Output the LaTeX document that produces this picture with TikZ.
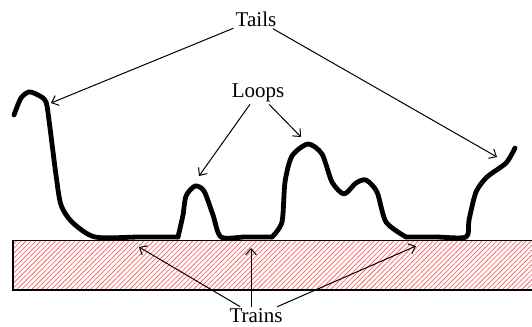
\documentclass[tikz,border=0pt]{standalone}
\usepackage{fontspec}
\setmainfont{Liberation Serif}
\usetikzlibrary{patterns.meta,arrows.meta}

\begin{document}
\begin{tikzpicture}[
    x=0.75pt, y=-0.75pt,
    every node/.style={font=\fontsize{15.75}{18}\selectfont},
    lbl/.style={inner sep=1.5pt},
    arr/.style={-{Straight Barb[length=4.5pt, width=8pt]}, line width=0.75pt},
    chain/.style={line width=3.6pt, line join=round, line cap=round},
    surface/.style={pattern={Lines[angle=45, distance=2.6pt, line width=0.45pt]}, pattern color=red!70}
  ]
    \clip (0,0) rectangle (532,326);

    % substrate
    \fill[surface] (13,240.5) rectangle (540,290);
    \draw[line width=1pt] (540,240.5) -- (13,240.5) -- (13,290) -- (540,290);

    % adsorbed chain
    \draw[chain] plot[smooth, tension=0.45] coordinates {
      (14,115) (21,98) (29,92) (38,95) (46,102) (50,128) (56,175) (61,205)
      (72,222) (95,237) (140,237) (178,237)};
    \draw[chain] plot[smooth, tension=0.45] coordinates {
      (178,237) (183,215) (186,196) (195,186) (204,191) (213,215) (221,237)
      (245,237) (272,237)};
    \draw[chain] plot[smooth, tension=0.45] coordinates {
      (272,237) (282,222) (285,182) (292,156) (308,144) (322,154) (332,182)
      (344,194) (356,183) (366,180) (377,192) (386,222) (406,237)};
    \draw[chain] plot[smooth, tension=0.45] coordinates {
      (406,237) (436,237) (466,237) (469,220) (476,192) (487,177) (506,163)
      (515,148)};

    % labels
    \node[lbl] (tails) at (256,19) {Tails};
    \node[lbl] (loops) at (258,93) {Loops};
    \node[lbl] (trains) at (256,316) {Trains};

    \coordinate (tailL) at (51,103);
    \coordinate (tailR) at (497,157);
    \coordinate (loopA) at (199,176);
    \coordinate (loopB) at (301,137);
    \coordinate (trainA) at (139,247);
    \coordinate (trainB) at (251,248);
    \coordinate (trainC) at (416,246);

    \draw[arr] (tails) -- (tailL);
    \draw[arr] (tails) -- (tailR);
    \draw[arr] (loops) -- (loopA);
    \draw[arr] (loops) -- (loopB);
    \draw[arr] (trains) -- (trainA);
    \draw[arr] (trains.north -| trainB) -- (trainB);
    \draw[arr] (trains) -- (trainC);
  \end{tikzpicture}
\end{document}
